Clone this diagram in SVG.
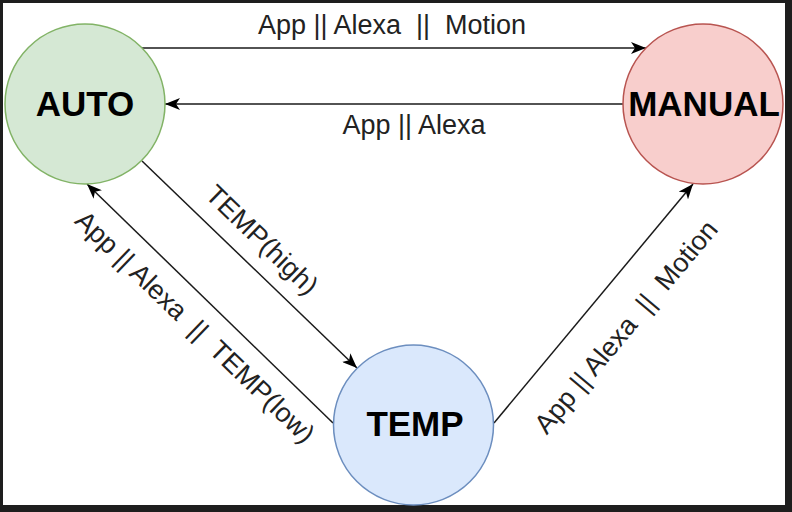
<svg xmlns="http://www.w3.org/2000/svg" width="792" height="512" viewBox="0 0 792 512">
  <style>
    .edge { fill: none; stroke: #1a1a1a; stroke-width: 1.5; marker-end: url(#arrow); }
    .lbl { font-family: "Liberation Sans", Arial, sans-serif; font-size: 27px; fill: #222; text-anchor: middle; white-space: pre; }
    .node-lbl { font-family: "Liberation Sans", Arial, sans-serif; font-size: 35px; font-weight: bold; fill: #000; text-anchor: middle; }
  </style>
  <defs>
    <marker id="arrow" viewBox="0 0 15 12" refX="15" refY="6" markerWidth="15" markerHeight="12" markerUnits="userSpaceOnUse" orient="auto">
      <path d="M0,0 L15,6 L0,12 L4,6 z" fill="#000"/>
    </marker>
  </defs>
  <rect x="0" y="0" width="792" height="512" fill="#1e1e1e"/>
  <rect x="3" y="3" width="782" height="502" fill="#ffffff"/>

  <g id="connectors">
    <path class="edge" d="M142,48 L646,48"/>
    <path class="edge" d="M623,104 L165,104"/>
    <path class="edge" d="M142,161 L357,368"/>
    <path class="edge" d="M333,423 L87,184"/>
    <path class="edge" d="M494,423 L693,184"/>
    <text class="lbl" x="392" y="34" xml:space="preserve">App || Alexa  ||  Motion</text>
    <text class="lbl" x="414" y="134">App || Alexa</text>
    <text class="lbl" transform="translate(262,240) rotate(44)" y="9">TEMP(high)</text>
    <text class="lbl" transform="translate(195,327) rotate(44)" y="9" xml:space="preserve">App || Alexa  ||  TEMP(low)</text>
    <text class="lbl" transform="translate(626,327) rotate(-50)" y="9" xml:space="preserve">App || Alexa  ||  Motion</text>
  </g>

  <g id="AUTO">
    <circle cx="85" cy="104" r="80" fill="#d5e8d4" stroke="#82b366" stroke-width="1.5"/>
    <text class="node-lbl" x="85" y="116">AUTO</text>
  </g>
  <g id="MANUAL">
    <circle cx="703" cy="104" r="80" fill="#f8cecc" stroke="#b85450" stroke-width="1.5"/>
    <text class="node-lbl" x="704" y="116">MANUAL</text>
  </g>
  <g id="TEMP">
    <circle cx="413.5" cy="425" r="80" fill="#dae8fc" stroke="#6c8ebf" stroke-width="1.5"/>
    <text class="node-lbl" x="415" y="436">TEMP</text>
  </g>
</svg>
